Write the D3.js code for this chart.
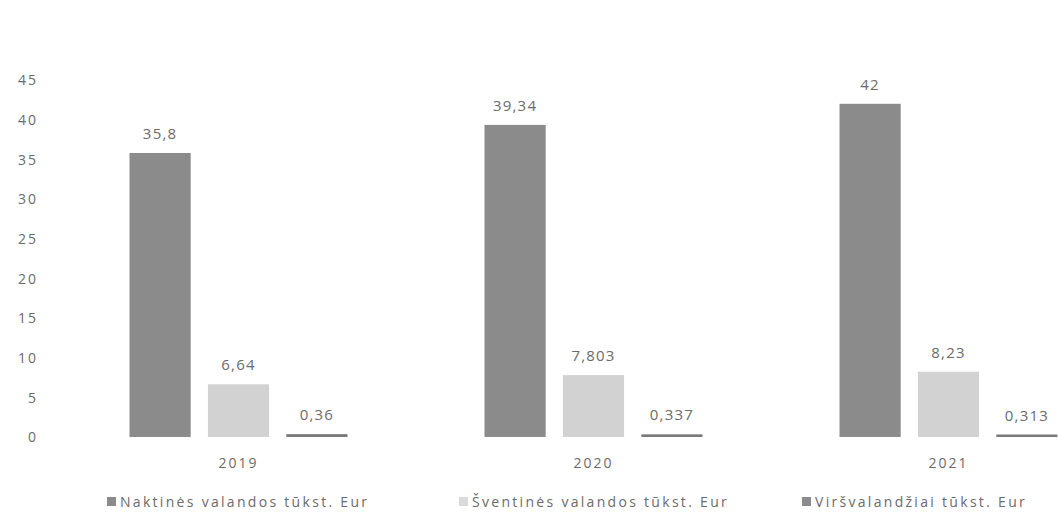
<!DOCTYPE html>
<html><head><meta charset="utf-8">
<script src="https://cdn.jsdelivr.net/npm/d3@7"></script>
<style>
html,body{margin:0;padding:0;background:#fff;}
svg{display:block;}
text{font-family:"Open Sans","DejaVu Sans",sans-serif;fill:#6b6b6b;}
</style></head>
<body>
<svg id="chart" width="1058" height="513"></svg>
<script>
const years = ["2019", "2020", "2021"];
const seriesNames = ["Naktinės valandos tūkst. Eur", "Šventinės valandos tūkst. Eur", "Viršvalandžiai tūkst. Eur"];
const naktines = [35.8, 39.34, 42];
const sventines = [6.64, 7.803, 8.23];
const virsvalandziai = [0.36, 0.337, 0.313];
const valueLabels = [["35,8", "39,34", "42"], ["6,64", "7,803", "8,23"], ["0,36", "0,337", "0,313"]];
const yTicks = [0, 5, 10, 15, 20, 25, 30, 35, 40, 45];
const colors = ["#8b8b8b", "#d2d2d2", "#7a7a7a"];
const legendColors = ["#8b8b8b", "#dadada", "#8b8b8b"];

const series = [naktines, sventines, virsvalandziai];
const svg = d3.select("#chart");

const y = d3.scaleLinear().domain([0, 45]).range([437, 80]);
const x0 = d3.scaleBand().domain(years).range([61, 1126]).paddingInner(0.386).paddingOuter(0.193);
const x1 = d3.scaleBand().domain(d3.range(3)).range([0, x0.bandwidth()]).paddingInner(0.22).paddingOuter(0);

// y-axis labels
const yAxis = d3.axisLeft(y).tickValues(yTicks).tickSize(0).tickPadding(0);
const gy = svg.append("g").attr("transform", "translate(38,0)").call(yAxis);
gy.select(".domain").remove();
gy.selectAll("text").style("font-size", "14px").style("letter-spacing", "2px").attr("fill", "#8a8a8a").attr("dy", "0.35em");

// bars
years.forEach((yr, i) => {
  const g = svg.append("g").attr("transform", `translate(${x0(yr)},0)`);
  series.forEach((s, k) => {
    const h = Math.max(2, y(0) - y(s[i]));
    g.append("rect")
      .attr("x", x1(k)).attr("width", x1.bandwidth())
      .attr("y", y(0) - h).attr("height", h)
      .attr("fill", colors[k]);
    g.append("text")
      .attr("x", x1(k) + x1.bandwidth() / 2)
      .attr("y", y(s[i]) - 14)
      .attr("text-anchor", "middle")
      .style("font-size", "15px").style("letter-spacing", "1.2px")
      .attr("fill", "#5f5f5f")
      .text(valueLabels[k][i]);
  });
});

// x-axis labels
const xAxis = d3.axisBottom(x0).tickSize(0).tickPadding(0);
const gx = svg.append("g").attr("transform", "translate(0,458)").call(xAxis);
gx.select(".domain").remove();
gx.selectAll("text").style("font-size", "14px").style("letter-spacing", "2px").attr("fill", "#6b6b6b").attr("dy", "0.71em");

// legend
const legendX = [107, 459, 802];
const lg = svg.append("g");
seriesNames.forEach((n, k) => {
  lg.append("rect").attr("x", legendX[k]).attr("y", 497).attr("width", 9).attr("height", 9).attr("fill", legendColors[k]);
  lg.append("text").attr("x", legendX[k] + 13).attr("y", 502).attr("dy", "0.35em")
    .style("font-size", "14px").style("letter-spacing", "2.3px").attr("fill", "#6b6b6b").text(n);
});
</script>
</body></html>
